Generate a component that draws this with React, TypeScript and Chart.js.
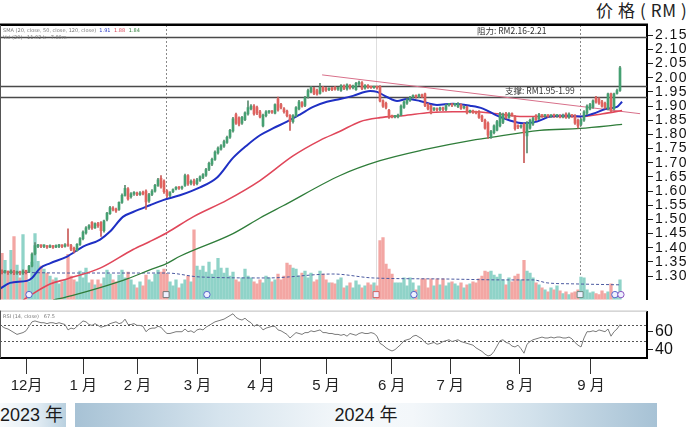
import React, { useEffect, useRef } from 'react';
import { Chart, registerables } from 'chart.js';

Chart.register(...registerables);

// ---------- data (bar index 0 = late Nov 2023, 206 = mid Sep 2024) ----------
const OPEN = [
  1.318,1.314,1.316,1.312,1.318,1.310,1.315,1.310,1.318,1.315,
  1.335,1.378,1.405,1.408,1.405,1.405,1.402,1.405,1.402,1.405,
  1.408,1.405,1.410,1.408,1.398,1.390,1.412,1.432,1.452,1.470,
  1.490,1.470,1.485,1.490,1.460,1.500,1.520,1.540,1.535,1.535,
  1.560,1.585,1.608,1.580,1.590,1.592,1.588,1.592,1.600,1.565,
  1.588,1.600,1.620,1.645,1.635,1.600,1.585,1.598,1.608,1.612,
  1.610,1.620,1.655,1.628,1.636,1.626,1.638,1.648,1.656,1.676,
  1.695,1.712,1.735,1.748,1.758,1.772,1.790,1.812,1.870,1.858,
  1.840,1.852,1.872,1.890,1.900,1.895,1.880,1.830,1.866,1.878,
  1.880,1.875,1.925,1.905,1.890,1.882,1.866,1.845,1.866,1.890,
  1.912,1.902,1.932,1.950,1.962,1.955,1.945,1.966,1.962,1.958,
  1.960,1.965,1.960,1.955,1.970,1.960,1.972,1.965,1.958,1.978,
  1.982,1.964,1.972,1.966,1.965,1.966,1.970,1.918,1.910,1.885,
  1.864,1.862,1.862,1.868,1.895,1.910,1.920,1.932,1.935,1.934,
  1.938,1.943,1.905,1.900,1.888,1.890,1.888,1.892,1.888,1.904,
  1.905,1.904,1.898,1.905,1.894,1.896,1.880,1.882,1.878,1.880,
  1.865,1.850,1.840,1.790,1.806,1.815,1.830,1.842,1.873,1.860,
  1.872,1.862,1.830,1.826,1.835,1.795,1.822,1.836,1.866,1.855,
  1.866,1.865,1.866,1.864,1.866,1.865,1.866,1.862,1.872,1.860,
  1.866,1.866,1.850,1.835,1.850,1.875,1.890,1.896,1.930,1.925,
  1.915,1.910,1.890,1.943,1.890,1.945,1.955,
];
const CLOSE = [
  1.312,1.316,1.312,1.318,1.310,1.315,1.310,1.318,1.312,1.335,
  1.378,1.408,1.408,1.405,1.405,1.402,1.405,1.402,1.405,1.408,
  1.405,1.410,1.408,1.395,1.388,1.412,1.432,1.455,1.470,1.478,
  1.470,1.485,1.478,1.460,1.495,1.522,1.542,1.535,1.530,1.560,
  1.585,1.610,1.572,1.590,1.592,1.588,1.592,1.590,1.562,1.588,
  1.600,1.620,1.640,1.615,1.598,1.585,1.595,1.605,1.612,1.610,
  1.614,1.655,1.625,1.634,1.625,1.640,1.650,1.658,1.676,1.698,
  1.712,1.738,1.752,1.760,1.775,1.790,1.814,1.855,1.840,1.836,
  1.860,1.876,1.895,1.900,1.872,1.876,1.862,1.868,1.880,1.880,
  1.878,1.905,1.886,1.895,1.880,1.866,1.845,1.866,1.895,1.915,
  1.900,1.930,1.955,1.965,1.945,1.942,1.966,1.955,1.956,1.960,
  1.958,1.960,1.962,1.972,1.962,1.975,1.965,1.970,1.980,1.982,
  1.962,1.972,1.966,1.965,1.966,1.965,1.918,1.900,1.895,1.863,
  1.862,1.863,1.868,1.900,1.915,1.922,1.930,1.935,1.932,1.938,
  1.934,1.902,1.890,1.876,1.890,1.886,1.892,1.888,1.902,1.905,
  1.903,1.906,1.908,1.892,1.896,1.876,1.882,1.878,1.876,1.860,
  1.850,1.822,1.797,1.810,1.830,1.845,1.873,1.870,1.860,1.873,
  1.868,1.820,1.826,1.830,1.805,1.840,1.850,1.856,1.852,1.870,
  1.865,1.866,1.864,1.866,1.865,1.866,1.862,1.866,1.860,1.872,
  1.865,1.840,1.830,1.852,1.880,1.900,1.905,1.918,1.915,1.910,
  1.900,1.895,1.943,1.884,1.943,1.955,2.035,
];
const HIGH = [
  1.322,1.320,1.318,1.322,1.320,1.318,1.318,1.322,1.320,1.338,
  1.382,1.418,1.412,1.410,1.410,1.408,1.410,1.408,1.410,1.412,
  1.410,1.415,1.467,1.412,1.402,1.415,1.436,1.460,1.475,1.482,
  1.492,1.488,1.490,1.492,1.498,1.525,1.546,1.545,1.540,1.562,
  1.590,1.620,1.612,1.595,1.598,1.596,1.598,1.600,1.604,1.592,
  1.605,1.624,1.645,1.655,1.640,1.604,1.598,1.608,1.616,1.616,
  1.618,1.660,1.658,1.640,1.642,1.645,1.654,1.662,1.680,1.702,
  1.716,1.742,1.756,1.764,1.780,1.794,1.818,1.860,1.875,1.862,
  1.864,1.880,1.918,1.905,1.905,1.900,1.885,1.872,1.884,1.884,
  1.884,1.908,1.932,1.910,1.895,1.886,1.870,1.870,1.898,1.920,
  1.916,1.934,1.960,1.970,1.966,1.960,1.980,1.970,1.966,1.964,
  1.966,1.970,1.966,1.976,1.975,1.978,1.976,1.974,1.984,1.988,
  1.986,1.976,1.976,1.970,1.970,1.970,1.972,1.922,1.914,1.888,
  1.868,1.866,1.872,1.904,1.918,1.926,1.934,1.940,1.940,1.942,
  1.942,1.946,1.910,1.904,1.894,1.894,1.896,1.896,1.906,1.910,
  1.908,1.910,1.912,1.908,1.900,1.900,1.886,1.886,1.882,1.884,
  1.868,1.854,1.844,1.814,1.834,1.850,1.878,1.875,1.878,1.877,
  1.876,1.866,1.834,1.834,1.840,1.845,1.854,1.860,1.870,1.874,
  1.870,1.870,1.870,1.870,1.872,1.870,1.870,1.872,1.876,1.876,
  1.870,1.870,1.854,1.856,1.884,1.904,1.910,1.922,1.934,1.930,
  1.920,1.914,1.946,1.946,1.946,1.960,2.040,
];
const LOW = [
  1.308,1.310,1.306,1.308,1.305,1.306,1.304,1.306,1.308,1.312,
  1.332,1.375,1.400,1.400,1.400,1.398,1.400,1.398,1.400,1.400,
  1.400,1.402,1.405,1.390,1.382,1.388,1.408,1.428,1.448,1.465,
  1.465,1.468,1.472,1.440,1.455,1.495,1.518,1.530,1.525,1.532,
  1.556,1.582,1.568,1.575,1.585,1.584,1.585,1.586,1.535,1.560,
  1.584,1.596,1.616,1.610,1.592,1.578,1.580,1.594,1.604,1.606,
  1.606,1.616,1.620,1.622,1.620,1.622,1.634,1.644,1.652,1.672,
  1.690,1.708,1.730,1.744,1.754,1.768,1.786,1.808,1.835,1.830,
  1.835,1.848,1.868,1.886,1.868,1.870,1.858,1.826,1.862,1.874,
  1.874,1.872,1.882,1.890,1.875,1.862,1.814,1.840,1.862,1.886,
  1.896,1.898,1.928,1.946,1.940,1.938,1.942,1.950,1.952,1.954,
  1.954,1.956,1.955,1.952,1.958,1.956,1.960,1.960,1.955,1.972,
  1.958,1.960,1.962,1.962,1.962,1.960,1.915,1.895,1.890,1.856,
  1.858,1.858,1.858,1.865,1.892,1.906,1.916,1.928,1.928,1.930,
  1.930,1.898,1.886,1.872,1.884,1.882,1.884,1.884,1.884,1.900,
  1.898,1.900,1.894,1.888,1.890,1.872,1.876,1.874,1.872,1.856,
  1.845,1.818,1.786,1.786,1.802,1.812,1.826,1.838,1.855,1.856,
  1.864,1.815,1.820,1.822,1.700,1.735,1.818,1.832,1.848,1.852,
  1.860,1.860,1.860,1.860,1.860,1.860,1.858,1.858,1.856,1.856,
  1.860,1.835,1.822,1.830,1.846,1.870,1.886,1.892,1.910,1.906,
  1.896,1.890,1.886,1.880,1.886,1.942,1.952,
];
const VOLUME = [
  47,40,28,50,64,35,22,66,30,18,
  38,67,39,34,31,27,24,20,22,16,
  18,20,46,24,20,18,29,22,32,17,
  20,15,20,16,22,30,26,20,18,25,
  30,22,28,20,15,12,18,14,25,20,
  18,26,30,28,31,26,18,14,20,12,
  16,20,24,18,71,34,30,34,28,38,
  26,30,42,32,27,32,24,28,20,18,
  22,31,24,22,18,16,20,17,24,22,
  18,20,26,20,24,37,35,32,31,24,
  27,29,22,27,18,20,29,26,20,17,
  17,16,20,22,12,14,17,12,19,15,
  12,14,17,15,17,14,60,63,36,31,
  26,17,17,17,22,14,22,17,10,14,
  21,21,12,21,14,21,15,21,14,17,
  18,16,14,17,12,15,16,18,17,21,
  24,29,28,29,25,23,26,20,15,22,
  18,24,26,20,40,29,27,22,17,15,
  12,10,8,12,10,14,9,6,8,5,
  7,8,10,23,22,10,7,8,6,5,
  9,6,8,16,5,6,20,
];
const RSI = [
  66,64,63,61,59,57,58,59,61,66,
  71,72,71,70,70,69,70,70,69,70,
  69,68,62,64,63,66,69,72,71,68,
  67,69,67,65,66,67,69,70,71,69,
  70,74,68,68,69,67,67,66,60,63,
  64,64,66,65,61,58,58,59,60,60,
  60,63,60,61,59,62,63,62,65,67,
  69,71,72,73,74,76,78,80,76,74,
  73,75,72,70,66,68,66,62,64,65,
  66,66,62,61,59,57,53,56,59,58,
  57,59,59,61,60,61,62,59,59,58,
  58,57,57,56,57,55,58,57,56,58,
  59,58,58,59,58,55,47,45,42,40,
  38.5,40,43,46,50,51,52,55,56,54,
  52,48,46,47,48,46,47,49,50,51,
  49,50,51,49,48,47,46,45,42,40,
  38,35,33,34,38,44,50,51,48,47,
  44,43,45,41,36,46,49,51,52,53,
  54,53,53,54,53,54,54,53,53,54,
  52,48,45,43,53,60,60,61,60,62,
  61,60,63,55,60,63,68,
];

// moving averages (bar index -> value)
const MA20_IDX = [-0.7,2.7,8.3,10,12.7,16,21.7,27,32.7,36,40.3,43.7,49.3,53.7,59.3,66,71.7,77,81.7,86,90.3,95,99.3,103.7,108.3,112.7,117,122.7,125,128.3,131.7,135,139.3,145,150.3,156,160.3,165,169.3,173.7,178.3,182.7,187,192.7,197,201.7,205,206.7];
const MA20_VAL = [1.255,1.276,1.283,1.293,1.328,1.345,1.369,1.404,1.429,1.457,1.509,1.526,1.550,1.568,1.585,1.613,1.648,1.717,1.762,1.797,1.821,1.845,1.870,1.897,1.915,1.925,1.936,1.953,1.950,1.932,1.918,1.925,1.918,1.904,1.908,1.901,1.891,1.866,1.849,1.839,1.845,1.863,1.866,1.863,1.873,1.891,1.897,1.915];
const MA50_IDX = [7,9.3,16,21.7,32.7,43.7,49.3,55,63.7,75,86,97,106,112.7,119.3,126,133.7,142.7,150.3,157,165,173.7,182.7,192.7,200.3,206.7];
const MA50_VAL = [1.215,1.231,1.272,1.290,1.328,1.394,1.422,1.453,1.509,1.568,1.637,1.724,1.779,1.811,1.845,1.859,1.866,1.877,1.880,1.880,1.873,1.863,1.863,1.863,1.873,1.884];
const MA120_IDX = [17,23.3,32.7,41.7,49.3,55,59.3,77,86,93.7,112.7,126,140.3,157,160.3,179.3,192.7,206.7];
const MA120_VAL = [1.215,1.231,1.259,1.290,1.322,1.345,1.370,1.450,1.505,1.548,1.655,1.707,1.745,1.780,1.785,1.814,1.821,1.835];
const VOLMA_IDX = [0,21.7,55,66,88.3,110.3,123.7,146,168.3,177,181.7,190.3,206];
const VOLMA_VAL = [28,27,27,23,22,26,22,21,20,20,17,16,15];
const TREND_IDX = [106.7, 212.7];
const TREND_VAL = [2.01, 1.873];

// annotations
const PRICE_LINES = [2.145, 1.972, 1.933];
const RESIST_LABEL = '阻力: RM2.16-2.21';
const SUPPORT_LABEL = '支撑: RM1.95-1.99';
const RESIST_AT = 158.3;
const SUPPORT_AT = 167.7;
const EVENT_DOTTED = [54.5, 192.7];
const EVENT_SOLID = [124.7];
const EVENT_ICONS = [
  { at: 9, shape: 'circle', color: '#5566cc' },
  { at: 54.7, shape: 'square', color: '#777777' },
  { at: 68.3, shape: 'circle', color: '#5566cc' },
  { at: 124.7, shape: 'square', color: '#d46060' },
  { at: 137.3, shape: 'circle', color: '#5566cc' },
  { at: 192.7, shape: 'square', color: '#6a8a80' },
  { at: 204.3, shape: 'circle', color: '#5566cc' },
  { at: 206.3, shape: 'circle', color: '#8a55c0' },
];

// axes
const PRICE_TICKS = [1.30,1.35,1.40,1.45,1.50,1.55,1.60,1.65,1.70,1.75,1.80,1.85,1.90,1.95,2.00,2.05,2.10,2.15];
const RSI_TICKS = [40, 60];
const RSI_LEVELS = [67, 50];
const MONTH_POS = [8.2, 27.1, 45.2, 65.2, 86.3, 108, 129.9, 149.4, 172.6, 196.3];
const MONTH_LABELS = ['12月', '1 月', '2 月', '3 月', '4 月', '5 月', '6 月', '7 月', '8 月', '9 月'];

const X_MIN = -0.667;
const X_MAX = 215;
const PRICE_MIN = 1.217;
const PRICE_MAX = 2.186;
const VOL_AXIS_MAX = 279;
const RSI_MIN = 30.7;
const RSI_MAX = 82.4;

const UP = '#45a072';
const DOWN = '#e0625e';
const UP_WICK = '#5a8a6e';
const DOWN_WICK = '#c95a57';
const VOL_UP = '#8fd3c8';
const VOL_DOWN = '#f3a6a3';

const NUM_FONT = '"Liberation Sans", Arial, "Noto Sans CJK SC", sans-serif';

const mainOverlay = {
  id: 'mainOverlay',
  beforeDraw(chart: any) {
    chart.ctx.letterSpacing = '1.4px';
  },
  beforeDatasetsDraw(chart: any) {
    const { ctx, chartArea: a, scales } = chart;
    const xs = scales.x;
    const ys = scales.y;
    ctx.save();
    ctx.letterSpacing = '0px';
    ctx.lineWidth = 1;
    ctx.strokeStyle = '#dedede';
    for (const e of EVENT_SOLID) {
      const px = Math.round(xs.getPixelForValue(e)) + 0.5;
      ctx.beginPath(); ctx.moveTo(px, a.top); ctx.lineTo(px, a.bottom); ctx.stroke();
    }
    ctx.strokeStyle = '#8a8a8a';
    ctx.setLineDash([2, 2]);
    for (const e of EVENT_DOTTED) {
      const px = Math.round(xs.getPixelForValue(e)) + 0.5;
      ctx.beginPath(); ctx.moveTo(px, a.top); ctx.lineTo(px, a.bottom); ctx.stroke();
    }
    ctx.setLineDash([]);
    ctx.strokeStyle = '#4a4a4a';
    ctx.lineWidth = 1.4;
    for (const p of PRICE_LINES) {
      const py = Math.round(ys.getPixelForValue(p)) + 0.5;
      ctx.beginPath(); ctx.moveTo(a.left, py); ctx.lineTo(a.right, py); ctx.stroke();
    }
    ctx.restore();
  },
  afterDatasetsDraw(chart: any) {
    const { ctx, chartArea: a, scales } = chart;
    const xs = scales.x;
    const ys = scales.y;
    ctx.save();
    ctx.letterSpacing = '0px';
    // level labels
    ctx.fillStyle = '#333';
    ctx.font = '8.5px "Noto Sans CJK SC", sans-serif';
    ctx.textBaseline = 'middle';
    ctx.textAlign = 'left';
    ctx.fillText(RESIST_LABEL, xs.getPixelForValue(RESIST_AT), ys.getPixelForValue(PRICE_LINES[0]) - 5.5);
    const sy = (ys.getPixelForValue(PRICE_LINES[1]) + ys.getPixelForValue(PRICE_LINES[2])) / 2;
    ctx.fillText(SUPPORT_LABEL, xs.getPixelForValue(SUPPORT_AT), sy);
    // event icons
    const iy = a.bottom - 5;
    for (const ic of EVENT_ICONS) {
      const px = xs.getPixelForValue(ic.at);
      ctx.fillStyle = '#eef0ff';
      ctx.strokeStyle = ic.color;
      ctx.lineWidth = 1;
      ctx.beginPath();
      if (ic.shape === 'circle') ctx.arc(px, iy, 3.2, 0, Math.PI * 2);
      else ctx.rect(px - 3, iy - 3, 6, 6);
      ctx.fill(); ctx.stroke();
    }
    // legend text
    ctx.font = '5px "DejaVu Sans", sans-serif';
    ctx.textBaseline = 'middle';
    let lx = 3;
    const l1 = 'SMA (20, close, 50, close, 120, close)  ';
    ctx.fillStyle = '#777';
    ctx.fillText(l1, lx, a.top + 6);
    lx += ctx.measureText(l1).width;
    const vals = [['1.91 ', '#2a3bc8'], ['1.88 ', '#d9485a'], ['1.84', '#2f7d3a']];
    for (const [t, c] of vals) {
      ctx.fillStyle = c;
      ctx.fillText(t, lx, a.top + 6);
      lx += ctx.measureText(t).width + 2;
    }
    ctx.fillStyle = '#777';
    ctx.fillText('Vol (20)   11.02 k   7.80m', 3, a.top + 12.5);
    // frame
    ctx.fillStyle = '#000';
    ctx.fillRect(a.left, a.top - 1.5, a.right - a.left + 1, 2.5);
    ctx.fillStyle = '#555';
    ctx.fillRect(a.left, a.top, 1, a.bottom - a.top);
    ctx.restore();
  },
  afterDraw(chart: any) {
    chart.ctx.letterSpacing = '0px';
  },
};

const rsiOverlay = {
  id: 'rsiOverlay',
  beforeDatasetsDraw(chart: any) {
    const { ctx, chartArea: a, scales } = chart;
    ctx.save();
    ctx.strokeStyle = '#555';
    ctx.lineWidth = 1;
    ctx.setLineDash([2, 2]);
    for (const v of RSI_LEVELS) {
      const py = Math.round(scales.y.getPixelForValue(v)) + 0.5;
      ctx.beginPath(); ctx.moveTo(a.left, py); ctx.lineTo(a.right, py); ctx.stroke();
    }
    ctx.restore();
  },
  afterDatasetsDraw(chart: any) {
    const { ctx, chartArea: a } = chart;
    ctx.save();
    ctx.fillStyle = '#bbb';
    ctx.fillRect(a.left, a.top - 1, a.right - a.left, 1);
    ctx.fillStyle = '#555';
    ctx.fillRect(a.left, a.top - 1, 1, a.bottom - a.top + 1);
    ctx.font = '5px "DejaVu Sans", sans-serif';
    ctx.fillStyle = '#777';
    ctx.textBaseline = 'middle';
    ctx.fillText('RSI (14, close)   67.5', 3, a.top + 5);
    ctx.restore();
  },
};

export default function App() {
  const mainRef = useRef<HTMLCanvasElement>(null);
  const rsiRef = useRef<HTMLCanvasElement>(null);

  useEffect(() => {
    const idx = OPEN.map((_, i) => i);
    const isUp = idx.map((i) => CLOSE[i] >= OPEN[i]);

    const main = new Chart(mainRef.current as HTMLCanvasElement, {
      type: 'bar',
      data: {
        datasets: [
          {
            type: 'bar', label: 'body', xAxisID: 'x', yAxisID: 'y',
            data: idx.map((i) => ({ x: i, y: [OPEN[i], CLOSE[i]] })),
            backgroundColor: isUp.map((u) => (u ? UP : DOWN)),
            barThickness: 2, minBarLength: 1.5, grouped: false, order: 1,
          },
          {
            type: 'bar', label: 'wick', xAxisID: 'x', yAxisID: 'y',
            data: idx.map((i) => ({ x: i, y: [LOW[i], HIGH[i]] })),
            backgroundColor: isUp.map((u) => (u ? UP_WICK : DOWN_WICK)),
            barThickness: 1, grouped: false, order: 2,
          },
          {
            type: 'line', label: 'MA20', xAxisID: 'x', yAxisID: 'y',
            data: MA20_IDX.map((x, k) => ({ x, y: MA20_VAL[k] })),
            borderColor: '#1f30c4', borderWidth: 2, pointRadius: 0, cubicInterpolationMode: 'monotone', order: 3,
          },
          {
            type: 'line', label: 'MA50', xAxisID: 'x', yAxisID: 'y',
            data: MA50_IDX.map((x, k) => ({ x, y: MA50_VAL[k] })),
            borderColor: '#e0475a', borderWidth: 1.6, pointRadius: 0, cubicInterpolationMode: 'monotone', order: 4,
          },
          {
            type: 'line', label: 'MA120', xAxisID: 'x', yAxisID: 'y',
            data: MA120_IDX.map((x, k) => ({ x, y: MA120_VAL[k] })),
            borderColor: '#2f7d3a', borderWidth: 1.3, pointRadius: 0, cubicInterpolationMode: 'monotone', order: 5,
          },
          {
            type: 'line', label: 'trend', xAxisID: 'x', yAxisID: 'y',
            data: TREND_IDX.map((x, k) => ({ x, y: TREND_VAL[k] })),
            borderColor: '#d8708a', borderWidth: 1, pointRadius: 0, order: 6,
          },
          {
            type: 'line', label: 'volMA', xAxisID: 'x', yAxisID: 'yv',
            data: VOLMA_IDX.map((x, k) => ({ x, y: VOLMA_VAL[k] })),
            borderColor: '#4b5aa0', borderWidth: 1, borderDash: [3, 2], pointRadius: 0, cubicInterpolationMode: 'monotone', order: 9,
          },
          {
            type: 'bar', label: 'volume', xAxisID: 'x', yAxisID: 'yv',
            data: idx.map((i) => ({ x: i, y: VOLUME[i] })),
            backgroundColor: isUp.map((u) => (u ? VOL_UP : VOL_DOWN)),
            barThickness: 2.6, grouped: false, order: 10,
          },
        ] as any,
      },
      options: {
        animation: false,
        responsive: false,
        maintainAspectRatio: false,
        events: [],
        layout: { padding: { top: 25, bottom: 6, left: 0, right: 0 } },
        plugins: { legend: { display: false }, tooltip: { enabled: false }, title: { display: false } },
        scales: {
          x: { type: 'linear', min: X_MIN, max: X_MAX, display: false, offset: false, grid: { display: false } },
          y: {
            type: 'linear', position: 'right', min: PRICE_MIN, max: PRICE_MAX, beginAtZero: false,
            afterBuildTicks: (s: any) => { s.ticks = PRICE_TICKS.map((v) => ({ value: v })); },
            afterFit: (s: any) => { s.width = 43; },
            ticks: {
              autoSkip: false, padding: 2, color: '#111',
              font: { family: NUM_FONT, size: 14 },
              callback: (v: any) => Number(v).toFixed(2),
            },
            grid: { display: true, drawOnChartArea: false, drawTicks: true, tickLength: 6, color: '#222' },
            border: { display: true, color: '#000', width: 2 },
          },
          yv: { type: 'linear', display: false, min: 0, max: VOL_AXIS_MAX, beginAtZero: true },
        },
      } as any,
      plugins: [mainOverlay],
    });

    const rsi = new Chart(rsiRef.current as HTMLCanvasElement, {
      type: 'line',
      data: {
        datasets: [
          {
            label: 'RSI',
            data: RSI.map((v, i) => ({ x: i, y: v })),
            borderColor: '#7a7a7a', borderWidth: 1, pointRadius: 0, tension: 0,
          },
        ],
      },
      options: {
        animation: false,
        responsive: false,
        maintainAspectRatio: false,
        events: [],
        layout: { padding: { top: 5, bottom: 0, left: 0, right: 0 } },
        plugins: { legend: { display: false }, tooltip: { enabled: false } },
        scales: {
          x: {
            type: 'linear', min: X_MIN, max: X_MAX, offset: false,
            afterBuildTicks: (s: any) => { s.ticks = MONTH_POS.map((v) => ({ value: v })); },
            afterFit: (s: any) => { s.height = 42; },
            ticks: {
              autoSkip: false, maxRotation: 0, padding: 3, color: '#222',
              font: { family: NUM_FONT, size: 15 },
              callback: (_v: any, i: number) => MONTH_LABELS[i],
            },
            grid: { display: true, drawOnChartArea: false, drawTicks: true, tickLength: 16, color: '#333' },
            border: { display: true, color: '#000', width: 2 },
          },
          y: {
            type: 'linear', position: 'right', min: RSI_MIN, max: RSI_MAX,
            afterBuildTicks: (s: any) => { s.ticks = RSI_TICKS.map((v) => ({ value: v })); },
            afterFit: (s: any) => { s.width = 43; },
            ticks: { autoSkip: false, padding: 2, color: '#111', font: { family: NUM_FONT, size: 16 } },
            grid: { display: true, drawOnChartArea: false, drawTicks: true, tickLength: 6, color: '#222' },
            border: { display: true, color: '#000', width: 2 },
          },
        },
      } as any,
      plugins: [rsiOverlay],
    });

    return () => {
      main.destroy();
      rsi.destroy();
    };
  }, []);

  const bandText: React.CSSProperties = {
    position: 'absolute', top: 403, height: 24, lineHeight: '24px',
    fontFamily: NUM_FONT, fontSize: 18, color: '#1a1a1a', whiteSpace: 'nowrap',
  };

  return (
    <div style={{ position: 'fixed', left: 0, top: 0, width: 690, height: 427, background: '#fff', overflow: 'hidden' }}>
      <div
        style={{
          position: 'absolute', left: 596, top: 0, lineHeight: '20px', fontSize: 17, letterSpacing: '0.6px',
          fontFamily: '"Noto Sans CJK SC", sans-serif', color: '#222', whiteSpace: 'nowrap',
        }}
      >
        价 格 ( RM )
      </div>
      <canvas ref={mainRef} width={690} height={310} style={{ position: 'absolute', left: 0, top: 0 }} />
      <canvas ref={rsiRef} width={690} height={100} style={{ position: 'absolute', left: 0, top: 300 }} />
      <div
        style={{
          ...bandText, left: 0, width: 66,
          background: 'linear-gradient(to right, #f7fafc 0%, #e3edf4 55%, #b9d0df 100%)',
        }}
      >
        2023 年
      </div>
      <div
        style={{
          ...bandText, left: 75, width: 582, textAlign: 'center',
          background: 'linear-gradient(to right, #a7c2d5 0%, #d6e4ee 25%, #f6f9fb 48%, #f3f7fa 58%, #d3e2ec 78%, #a7c2d5 100%)',
        }}
      >
        2024 年
      </div>
    </div>
  );
}
